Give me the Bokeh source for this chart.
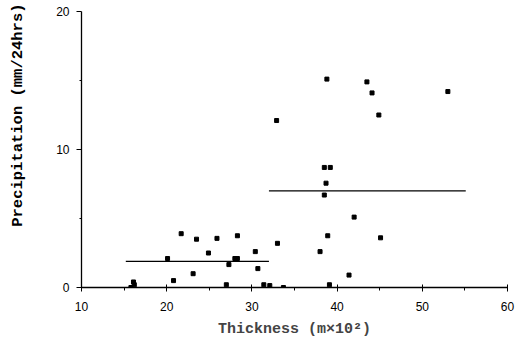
from bokeh.plotting import figure
from bokeh.models import Range1d, FixedTicker, Title
from bokeh.embed import file_html
from bokeh.resources import INLINE

# Data
thickness = [15.8, 16.1, 16.2, 20.1, 20.8, 21.7, 23.1, 23.5, 24.9, 25.9, 27.0, 27.3,
             28.0, 28.3, 28.3, 30.4, 30.7, 31.4, 32.1, 33.0, 33.7, 32.9, 38.0, 38.5,
             38.7, 38.5, 39.2, 38.8, 38.9, 39.1, 41.4, 42.0, 43.5, 44.1, 44.9, 45.1, 53.0]
precip = [0.0, 0.4, 0.2, 2.1, 0.5, 3.9, 1.0, 3.5, 2.5, 3.56, 0.2, 1.66,
          2.1, 2.1, 3.75, 2.6, 1.37, 0.2, 0.14, 3.2, 0.0, 12.1, 2.6, 6.7,
          7.56, 8.7, 8.7, 15.1, 3.75, 0.2, 0.9, 5.1, 14.9, 14.1, 12.5, 3.6, 14.2]

# group mean lines
mean_x0 = [15.2, 32.0]
mean_x1 = [32.0, 55.1]
mean_y = [1.9, 7.0]

x_ticks = [10, 20, 30, 40, 50, 60]
x_minor = [15, 25, 35, 45, 55]
y_ticks = [0, 10, 20]
y_minor = [5, 15]

p = figure(width=516, height=340, output_backend="svg", toolbar_location=None,
           x_range=Range1d(10, 60), y_range=Range1d(0, 20),
           min_border_left=81, min_border_right=9, min_border_top=11, min_border_bottom=52)
p.outline_line_color = None
p.grid.visible = False
p.background_fill_color = "white"
p.border_fill_color = "white"

p.segment(x0=mean_x0, y0=mean_y, x1=mean_x1, y1=mean_y, line_color="black", line_width=1.3)
p.scatter(thickness, precip, marker="square", size=4, color="black")

p.xaxis.ticker = FixedTicker(ticks=x_ticks, minor_ticks=x_minor)
p.yaxis.ticker = FixedTicker(ticks=y_ticks, minor_ticks=y_minor)

for ax in (p.xaxis[0], p.yaxis[0]):
    ax.axis_line_color = "black"
    ax.axis_line_width = 1.3
    ax.major_tick_line_color = "black"
    ax.minor_tick_line_color = "black"
    ax.major_label_text_font = "Liberation Sans"
    ax.major_label_text_font_size = "12px"
    ax.major_label_text_color = "black"

p.xaxis.major_tick_in = 3
p.xaxis.major_tick_out = 4
p.xaxis.minor_tick_in = 0
p.xaxis.minor_tick_out = 3
p.xaxis.major_label_standoff = 10
p.xaxis.axis_label = "Thickness (m\u00d710\u00b2)"
p.xaxis.axis_label_text_font = "Liberation Mono"
p.xaxis.axis_label_text_font_style = "bold"
p.xaxis.axis_label_text_font_size = "15px"
p.xaxis.axis_label_standoff = 7

p.yaxis.major_tick_in = 0
p.yaxis.major_tick_out = 5
p.yaxis.minor_tick_in = 0
p.yaxis.minor_tick_out = 2
p.yaxis.major_label_standoff = 7
# blank spacer label so the title sits further left
p.yaxis.axis_label = " "
p.yaxis.axis_label_text_font_size = "15px"
p.yaxis.axis_label_standoff = 5

ytitle = Title(text="Precipitation (mm/24hrs)", align="right", vertical_align="top",
               standoff=0, offset=-8,
               text_font="Liberation Mono", text_font_style="bold",
               text_font_size="15.5px", text_color="black")
p.add_layout(ytitle, "left")

open("out.html", "w").write(file_html(p, INLINE))
